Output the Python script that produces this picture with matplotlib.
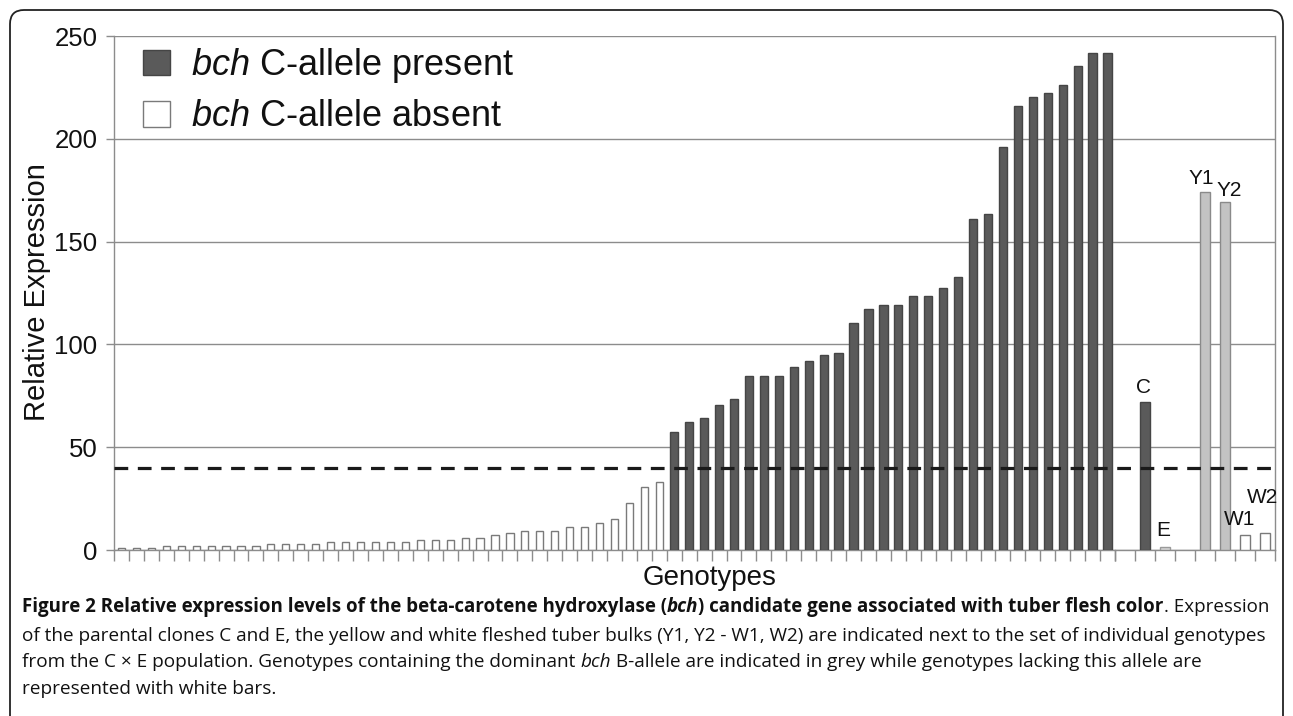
import numpy as np
import matplotlib
matplotlib.use("Agg")
import matplotlib.pyplot as plt
from matplotlib.patches import Patch, FancyBboxPatch
from matplotlib.transforms import IdentityTransform

# ---------------- data ----------------
absent_values = [1, 1, 1, 2, 2, 2, 2, 2, 2, 2, 3, 3, 3, 3, 4, 4, 4, 4, 4, 4,
                 5, 5, 5, 6, 6, 7.1, 8.1, 9.1, 9, 9, 11.2, 11.2, 13.1, 15,
                 23.1, 30.4, 33.3]
present_values = [57.3, 62.5, 64.4, 70.5, 73.4, 84.7, 84.7, 84.7, 88.9, 91.8,
                  94.8, 96, 110.2, 117.4, 119.4, 119.4, 123.6, 123.6, 127.6,
                  132.6, 161.1, 163.2, 195.8, 216.1, 220.1, 222.2, 226.2,
                  235.4, 241.5, 241.5]
control_labels = ["", "C", "E", "", "Y1", "Y2", "W1", "W2"]
control_values = [np.nan, 72.2, 1.4, np.nan, 174.1, 169.1, 7.3, 8.3]
threshold = 40
y_ticks = [0, 50, 100, 150, 200, 250]
legend_labels = [r"$\it{bch}$ C-allele present", r"$\it{bch}$ C-allele absent"]

# ---------------- style ----------------
plt.rcParams['font.family'] = ['Liberation Sans', 'DejaVu Sans']
plt.rcParams['mathtext.fontset'] = 'custom'
plt.rcParams['mathtext.it'] = 'Liberation Sans:italic'
plt.rcParams['mathtext.rm'] = 'Liberation Sans'

DARK = '#5a5a5a'
DARK_EDGE = '#454545'
LIGHT = '#c3c3c3'
LIGHT_EDGE = '#8a8a8a'
WHITE_EDGE = '#7a7a7a'
AXIS = '#8c8c8c'
control_fc = [None, DARK, '#d4d4d4', None, LIGHT, LIGHT, 'white', 'white']
control_ec = [None, DARK_EDGE, '#9a9a9a', None, LIGHT_EDGE, LIGHT_EDGE, WHITE_EDGE, WHITE_EDGE]
label_offsets = {"C": (-1, 3), "E": (-1, 5), "Y1": (-3, 3), "Y2": (3, 2),
                 "W1": (-4, 4), "W2": (-2, 19)}

W, H = 1293, 716
fig = plt.figure(figsize=(W / 100, H / 100), dpi=100)


def fx(px):
    return px / W


def fy(py):
    return 1 - py / H


left, split, right_end = 114, 1115, 1275
top, bottom = 36, 550
ax1 = fig.add_axes([fx(left), fy(bottom), fx(split - left), (bottom - top) / H])
ax2 = fig.add_axes([fx(split), fy(bottom), fx(right_end - split), (bottom - top) / H])
ax2.patch.set_visible(False)

n_abs = len(absent_values)
n_pres = len(present_values)
x_abs = np.arange(n_abs)
x_pres = np.arange(n_abs, n_abs + n_pres)
ax1.bar(x_abs, absent_values, width=0.48, color='white', edgecolor=WHITE_EDGE,
        linewidth=1.0, zorder=3)
ax1.bar(x_pres, present_values, width=0.55, color=DARK, edgecolor=DARK_EDGE,
        linewidth=1.0, zorder=3)

xc = np.arange(len(control_labels))
for i, (v, fc, ec) in enumerate(zip(control_values, control_fc, control_ec)):
    if np.isnan(v):
        continue
    ax2.bar(xc[i], v, width=0.47, color=fc, edgecolor=ec, linewidth=1.0, zorder=3)
    lab = control_labels[i]
    dx, dy = label_offsets[lab]
    ax2.annotate(lab, (xc[i], v), xytext=(dx, dy), textcoords='offset points',
                 ha='center', va='bottom', fontsize=15, color='#111111',
                 annotation_clip=False, zorder=5)

n1 = n_abs + n_pres
for ax, n in ((ax1, n1), (ax2, len(control_labels))):
    ax.set_xlim(-0.5, n - 0.5)
    ax.set_ylim(0, 250)
    ax.set_yticks(y_ticks)
    ax.yaxis.grid(True, color=AXIS, linewidth=1.0, zorder=0)
    ax.set_axisbelow(True)
    ax.set_xticks(np.arange(-0.5, n, 1.0))
    ax.set_xticklabels([])
    ax.tick_params(axis='x', length=8, width=1, color=AXIS, direction='out')
    ax.spines['top'].set_visible(False)
    for s in ax.spines.values():
        s.set_color(AXIS)
        s.set_linewidth(1.0)

ax1.spines['right'].set_visible(False)
ax2.spines['left'].set_visible(False)
ax2.tick_params(axis='y', left=False, labelleft=False)
ax1.tick_params(axis='y', length=6, width=1, color=AXIS, labelsize=18.5, pad=6,
                labelcolor='#111111')

# threshold dashed line across both panels (drawn on top of all bars)
xfrac_start = -(split - left) / (right_end - split)
ax2.plot([xfrac_start, 1], [threshold, threshold], transform=ax2.get_yaxis_transform(),
         color='#1a1a1a', linewidth=2.3, dashes=(4.3, 3.0), clip_on=False, zorder=6)

# axis labels
fig.text(fx(37), fy(292), "Relative Expression", rotation=90, ha='center',
         va='center', fontsize=21, color='#111111')
fig.text(fx(710), fy(578), "Genotypes", ha='center', va='center', fontsize=20,
         color='#111111')

# legend
handles = [Patch(facecolor=DARK, edgecolor=DARK_EDGE),
           Patch(facecolor='white', edgecolor=WHITE_EDGE)]
leg = fig.legend(handles, legend_labels, loc='upper left',
                 bbox_to_anchor=(fx(143), fy(46)), frameon=False, fontsize=26,
                 handlelength=0.75, handleheight=0.72, handletextpad=0.58,
                 labelspacing=0.4, borderpad=0, borderaxespad=0)
for t in leg.get_texts():
    t.set_color('#111111')

# caption (rich text runs)
renderer = fig.canvas.get_renderer()
CAP = 'Open Sans'


def rich_line(x_px, y_px, runs):
    x = fx(x_px)
    for text, weight, style, size in runs:
        t = fig.text(x, fy(y_px), text, fontsize=size, fontweight=weight,
                     fontstyle=style, family=CAP, ha='left', va='baseline',
                     color='#111111')
        bb = t.get_window_extent(renderer)
        x = bb.x1 / W


BS = 13.5    # first line size
RS = 13.7    # other lines size
lines = [
    [("Figure 2 Relative expression levels of the beta-carotene hydroxylase (", 'bold', 'normal', BS),
     ("bch", 'bold', 'italic', BS),
     (") candidate gene associated with tuber flesh color", 'bold', 'normal', BS),
     (". Expression", 'normal', 'normal', BS)],
    [("of the parental clones C and E, the yellow and white fleshed tuber bulks (Y1, Y2 - W1, W2) are indicated next to the set of individual genotypes", 'normal', 'normal', RS)],
    [("from the C \u00d7 E population. Genotypes containing the dominant ", 'normal', 'normal', RS),
     ("bch", 'normal', 'italic', RS),
     (" B-allele are indicated in grey while genotypes lacking this allele are", 'normal', 'normal', RS)],
    [("represented with white bars.", 'normal', 'normal', RS)],
]
baselines = [612, 641, 667, 694]
for runs, yb in zip(lines, baselines):
    rich_line(22, yb, runs)

# rounded outer frame
frame = FancyBboxPatch((10, -30), 1273, H - 10 + 30,
                       boxstyle="round,pad=0,rounding_size=14",
                       transform=IdentityTransform(), fill=False,
                       edgecolor='#222222', linewidth=1.3)
fig.add_artist(frame)

fig.savefig("out.png", dpi=100)
